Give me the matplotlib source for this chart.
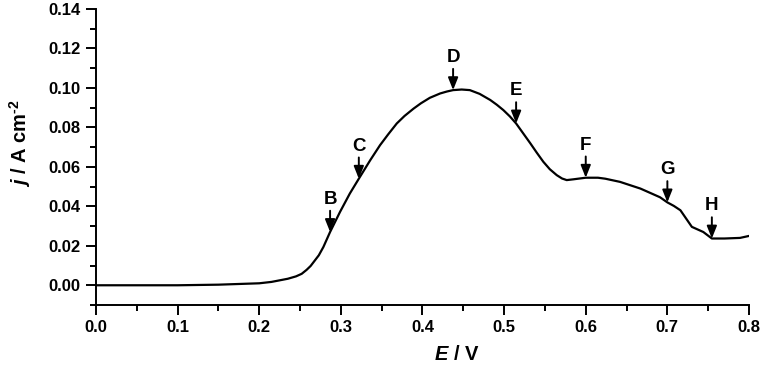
import matplotlib
matplotlib.use("Agg")
import matplotlib.pyplot as plt
from matplotlib.ticker import MultipleLocator, FormatStrFormatter

plt.rcParams['font.family'] = ['Liberation Sans', 'DejaVu Sans']
plt.rcParams['font.weight'] = 'bold'
plt.rcParams['mathtext.fontset'] = 'custom'
plt.rcParams['mathtext.rm'] = 'Liberation Sans:bold'
plt.rcParams['mathtext.it'] = 'Liberation Sans:italic:bold'
plt.rcParams['mathtext.bf'] = 'Liberation Sans:bold'
plt.rcParams['axes.unicode_minus'] = False

E = [0.0, 0.10, 0.15, 0.20, 0.215, 0.225, 0.235, 0.245, 0.252, 0.258, 0.263, 0.268,
     0.273, 0.2786, 0.2868, 0.299, 0.311, 0.322, 0.336, 0.348, 0.358, 0.3685, 0.378,
     0.389, 0.398, 0.409, 0.4216, 0.43, 0.4375, 0.448, 0.458, 0.47, 0.483, 0.491, 0.499,
     0.507, 0.5147, 0.523, 0.532, 0.540, 0.548, 0.556, 0.5645, 0.571, 0.5767, 0.585,
     0.60, 0.615, 0.624, 0.642, 0.667, 0.691, 0.70, 0.708, 0.716, 0.723, 0.730, 0.737,
     0.744, 0.7545, 0.77, 0.789, 0.80]
j = [0.0, 0.0, 0.0003, 0.001, 0.0017, 0.0025, 0.0033, 0.0045, 0.0058, 0.0078, 0.0098, 0.0125,
     0.0152, 0.0194, 0.027, 0.0372, 0.0465, 0.054, 0.0634, 0.071, 0.0765, 0.082, 0.0858,
     0.0895, 0.0922, 0.0950, 0.0972, 0.0982, 0.0989, 0.0992, 0.0989, 0.097, 0.0939, 0.0915, 0.0888,
     0.0856, 0.082, 0.0772, 0.072, 0.0672, 0.0626, 0.0588, 0.0558, 0.0541, 0.0533, 0.0537,
     0.0545, 0.0545, 0.054, 0.0524, 0.049, 0.0446, 0.042, 0.0402, 0.038, 0.0338, 0.0296, 0.0283,
     0.027, 0.0237, 0.0237, 0.024, 0.025]

labels = ['B', 'C', 'D', 'E', 'F', 'G', 'H']
label_E = [0.2868, 0.322, 0.4375, 0.5147, 0.60, 0.70, 0.7545]
tip_j = [0.027, 0.054, 0.0989, 0.082, 0.0545, 0.042, 0.0237]

fig = plt.figure(figsize=(7.66, 3.68), dpi=100)
ax = fig.add_axes([0.1253, 0.1712, 0.8525, 0.8043])
ax.plot(E, j, color='black', lw=1.6)

for lab, x, y in zip(labels, label_E, tip_j):
    ax.annotate(lab, xy=(x, y), xytext=(x, y + 0.0142),
                ha='center', va='baseline', fontsize=13.5, fontweight='bold',
                arrowprops=dict(arrowstyle='-|>,head_length=0.55,head_width=0.22',
                                color='black', lw=1.4, shrinkA=0, shrinkB=0))

ax.set_xlim(0.0, 0.8)
ax.set_ylim(-0.01, 0.14)
ax.xaxis.set_major_locator(MultipleLocator(0.1))
ax.xaxis.set_minor_locator(MultipleLocator(0.05))
ax.yaxis.set_minor_locator(MultipleLocator(0.01))
ax.xaxis.set_major_formatter(FormatStrFormatter('%.1f'))
ax.yaxis.set_major_formatter(FormatStrFormatter('%.2f'))
ax.set_yticks([0.0, 0.02, 0.04, 0.06, 0.08, 0.10, 0.12, 0.14])

for s in ['top', 'right']:
    ax.spines[s].set_visible(False)
for s in ['left', 'bottom']:
    ax.spines[s].set_linewidth(1.4)
ax.tick_params(which='major', direction='out', length=7, width=1.4, labelsize=12, pad=4)
ax.tick_params(which='minor', direction='out', length=4, width=1.4)
for t in ax.get_xticklabels() + ax.get_yticklabels():
    t.set_fontweight('bold')

ax.set_xlabel(r'$\mathit{E}$ / V', fontsize=14.5, fontweight='bold')
ax.set_ylabel(r'$\mathit{j}$ / A cm$^{\text{-2}}$', fontsize=14.5, fontweight='bold')
ax.xaxis.set_label_coords(0.553, -0.135)
ax.yaxis.set_label_coords(-0.097, 0.547)

fig.savefig('out.png', dpi=100)
